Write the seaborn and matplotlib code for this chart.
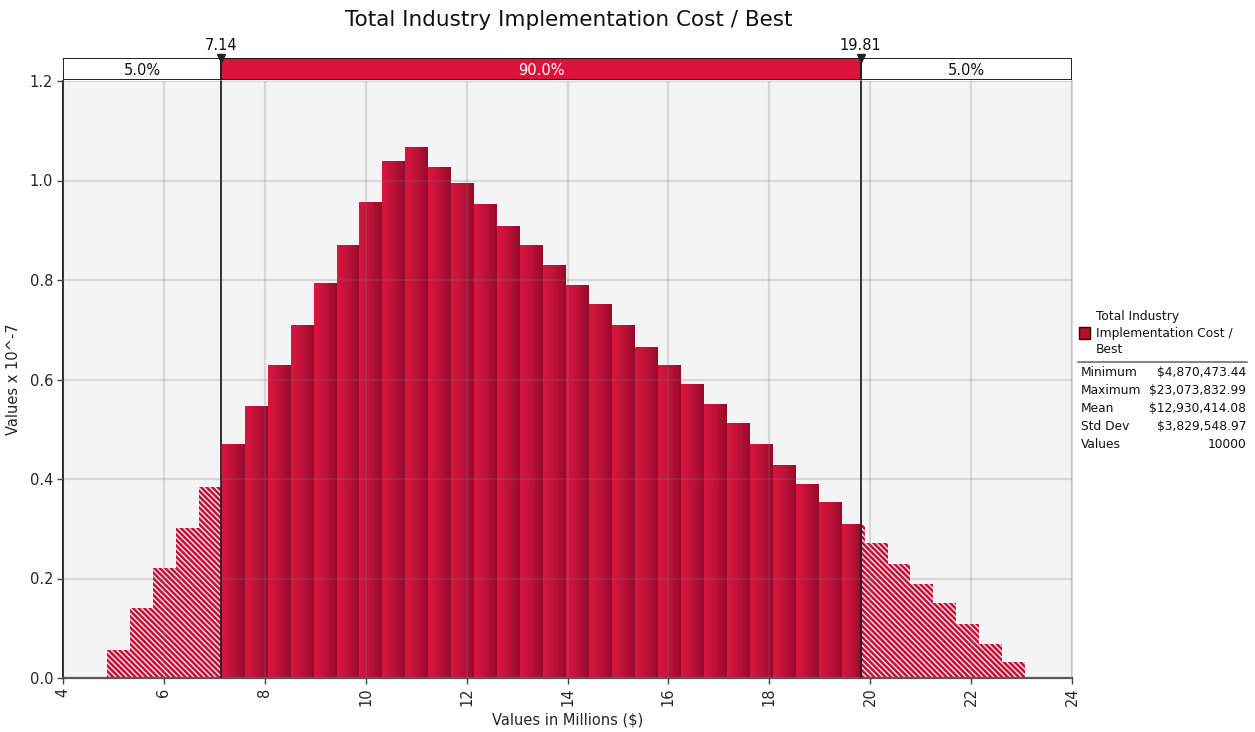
import numpy as np
import matplotlib
matplotlib.use("Agg")
import matplotlib.pyplot as plt
from matplotlib.colors import LinearSegmentedColormap
from matplotlib.patches import Rectangle
from matplotlib.lines import Line2D
import seaborn as sns

# ---------------- data ----------------
title = "Total Industry Implementation Cost / Best"
x_min = 4.87047344   # millions
x_max = 23.07383299
n_bins = 40
densities = [0.056, 0.140, 0.221, 0.302, 0.384,
             0.469, 0.545, 0.629, 0.708, 0.792, 0.870, 0.955, 1.039, 1.067, 1.027,
             0.993, 0.951, 0.907, 0.870, 0.830, 0.788, 0.750, 0.708, 0.665, 0.629,
             0.589, 0.549, 0.511, 0.469, 0.428, 0.388, 0.352, 0.308,
             0.271, 0.229, 0.188, 0.150, 0.108, 0.068, 0.032]
lower_cut = 7.14
upper_cut = 19.81
band_labels = ["5.0%", "90.0%", "5.0%"]
xticks = list(range(4, 25, 2))
yticks = [0.0, 0.2, 0.4, 0.6, 0.8, 1.0, 1.2]
stat_names = ["Minimum", "Maximum", "Mean", "Std Dev", "Values"]
stat_values = ["$4,870,473.44", "$23,073,832.99", "$12,930,414.08", "$3,829,548.97", "10000"]
legend_label = "Total Industry\nImplementation Cost /\nBest"

# ---------------- style ----------------
sns.set_style("white")
plt.rcParams["font.family"] = ["DejaVu Sans"]
plt.rcParams["hatch.linewidth"] = 1.0

CRIMSON = "#DC143C"
W, H = 1255, 732
fig = plt.figure(figsize=(W / 100, H / 100), dpi=100)


def rect(x0, y0, x1, y1):
    return [x0 / W, 1 - y1 / H, (x1 - x0) / W, (y1 - y0) / H]


ax = fig.add_axes(rect(63, 81, 1072, 678))
band = fig.add_axes(rect(63, 58, 1072, 80))
ax.set_facecolor("#F4F4F4")

# bin edges and region splits
edges = np.linspace(x_min, x_max, n_bins + 1)
h = np.array(densities)
lo_idx = int(np.searchsorted(edges, lower_cut)) - 1   # bin containing lower cut
hi_idx = int(np.searchsorted(edges, upper_cut)) - 1   # bin containing upper cut

left_edges = list(edges[:lo_idx + 1]) + [lower_cut]
left_h = h[:lo_idx + 1]
mid_edges = [lower_cut] + list(edges[lo_idx + 1:hi_idx + 1]) + [upper_cut]
mid_h = h[lo_idx:hi_idx + 1]
right_edges = [upper_cut] + list(edges[hi_idx + 1:])
right_h = h[hi_idx:]


def centers(e):
    e = np.asarray(e)
    return (e[:-1] + e[1:]) / 2


def draw(edges_, heights, **kw):
    n0 = len(ax.patches)
    sns.histplot(x=centers(edges_), weights=heights, bins=list(edges_), ax=ax,
                 stat="count", linewidth=0, alpha=1, legend=False, **kw)
    return ax.patches[n0:]


tail_patches = draw(left_edges, left_h, color="#C8123A")
tail_patches += draw(right_edges, right_h, color="#C8123A")
for p in tail_patches:
    p.set_hatch("\\\\\\\\\\\\")
    p.set_edgecolor("#FBE6EA")
    p.set_linewidth(0)
    p.set_facecolor("#C5113A")

mid_patches = draw(mid_edges, mid_h, color="#B81034")
cmap = LinearSegmentedColormap.from_list("bar", ["#DA1540", "#BE1238", "#950B2A"])
grad = np.linspace(0, 1, 64).reshape(1, -1)
for p in mid_patches:
    x0, w, hh = p.get_x(), p.get_width(), p.get_height()
    ax.imshow(grad, extent=(x0, x0 + w, 0, hh), cmap=cmap, aspect="auto",
              interpolation="bilinear", zorder=1.2)

# cut lines
for xc in (lower_cut, upper_cut):
    ax.axvline(xc, color="#222222", lw=1.3, zorder=4)

ax.set_xlim(4, 24)
ax.set_ylim(0, 1.2)
ax.set_xticks(xticks)
ax.set_xticklabels([str(t) for t in xticks], rotation=90, fontsize=10.5)
ax.set_yticks(yticks)
ax.set_yticklabels([f"{t:.1f}" for t in yticks], fontsize=10.5)
ax.tick_params(axis="both", direction="out", length=4, width=1, color="#444444",
               left=True, bottom=True, pad=3)
ax.grid(True, color="#777777", alpha=0.22, lw=1.6, ls="-")
ax.set_axisbelow(False)
ax.set_xlabel("Values in Millions ($)", fontsize=10.5, labelpad=4)
ax.set_ylabel("Values x 10^-7", fontsize=10.5, labelpad=6)
ax.spines["top"].set_visible(False)
ax.spines["left"].set_color("#111111")
ax.spines["left"].set_linewidth(1.3)
ax.spines["bottom"].set_color("#555555")
ax.spines["bottom"].set_linewidth(1.6)
ax.spines["right"].set_color("#DADADA")
ax.spines["right"].set_linewidth(1.5)

# ---------------- band ----------------
band_lefts = [4, lower_cut, upper_cut]
band_widths = [lower_cut - 4, upper_cut - lower_cut, 24 - upper_cut]
band_colors = ["white", CRIMSON, "white"]
band_text_colors = ["#111111", "white", "#111111"]
band.barh([0.5] * 3, band_widths, left=band_lefts, height=1.0, color=band_colors,
          edgecolor="#111111", linewidth=1.3)
for l, w_, lab, tc in zip(band_lefts, band_widths, band_labels, band_text_colors):
    band.text(l + w_ / 2, 0.45, lab, ha="center", va="center", fontsize=10.5, color=tc)
band.set_xlim(4, 24)
band.set_ylim(0, 1)
band.axis("off")
for xc in (lower_cut, upper_cut):
    band.plot([xc, xc], [0, 1], color="#222222", lw=1.3, clip_on=False)
    band.plot([xc], [1.0], marker="v", color="#222222", ms=5.5, clip_on=False)
    band.text(xc, 1.22, f"{xc:.2f}", ha="center", va="bottom", fontsize=10.5,
              color="#111111")

# ---------------- title ----------------
fig.text(569 / W, 1 - 20 / H, title, ha="center", va="center", fontsize=15.5, color="#111111")

# ---------------- legend panel ----------------
fig.add_artist(Rectangle((1079 / W, 1 - 339 / H), 11 / W, 12 / H, transform=fig.transFigure,
                         facecolor="#B01030", edgecolor="#3A0008", lw=1.0))
fig.text(1096 / W, 1 - 333 / H, legend_label, ha="left", va="center", fontsize=8.8,
         color="#111111", linespacing=1.35)
fig.add_artist(Line2D([1078 / W, 1247 / W], [1 - 362 / H, 1 - 362 / H],
                      transform=fig.transFigure, color="#888888", lw=1.5))
for i, (n, v) in enumerate(zip(stat_names, stat_values)):
    y = 1 - (373 + i * 17.8) / H
    fig.text(1081 / W, y, n, ha="left", va="center", fontsize=8.8, color="#111111")
    fig.text(1246 / W, y, v, ha="right", va="center", fontsize=8.8, color="#111111")

fig.savefig("out.png", dpi=100)
